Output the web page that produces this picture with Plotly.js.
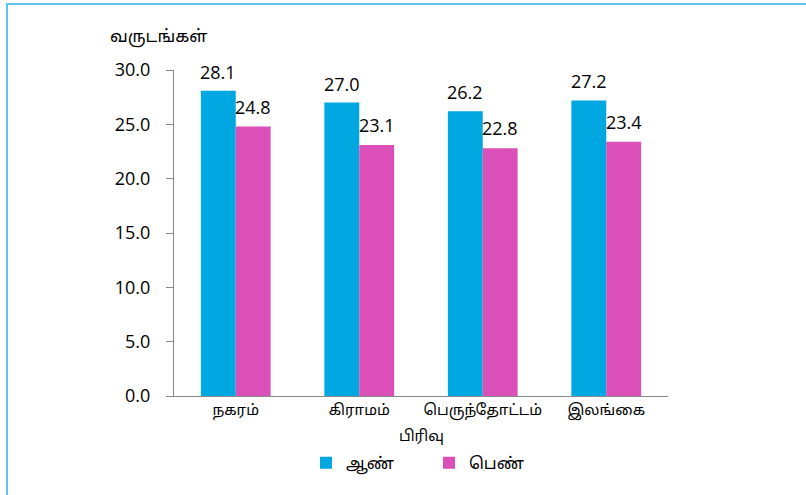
<!DOCTYPE html>
<html>
<head>
<meta charset="utf-8">
<script src="https://cdn.plot.ly/plotly-3.0.1.min.js"></script>
<style>
html,body{margin:0;padding:0;background:#fff;overflow:hidden;}
#frame{position:absolute;left:6px;top:3px;width:900px;height:600px;border:2px solid #5CC5EE;box-sizing:border-box;pointer-events:none;z-index:5;}
#chart{position:absolute;left:0;top:0;width:806px;height:495px;}
</style>
</head>
<body>
<div id="chart"></div>
<div id="frame"></div>
<script>
const categories = ["நகரம்", "கிராமம்", "பெருந்தோட்டம்", "இலங்கை"];
const maleValues = [28.1, 27.0, 26.2, 27.2];
const femaleValues = [24.8, 23.1, 22.8, 23.4];
const seriesNames = ["ஆண்", "பெண்"];
const yTicks = [0, 5, 10, 15, 20, 25, 30];
const yTickLabels = ["0.0", "5.0", "10.0", "15.0", "20.0", "25.0", "30.0"];

const tamilFont = "'Noto Sans Tamil', 'Lohit Tamil', 'Noto Sans', sans-serif";
const numFont = "'Open Sans', 'Noto Sans', sans-serif";
const blue = "#00A7E1";
const pink = "#DB4FB8";

const W = 806, H = 495;
const M = {l: 174, r: 138, t: 70, b: 99};
const plotW = W - M.l - M.r, plotH = H - M.t - M.b;
const px2x = p => (p - M.l) / plotW;
const py2y = p => (H - M.b - p) / plotH;

const traces = [
  {type: "bar", name: seriesNames[0], x: categories, y: maleValues, marker: {color: blue}, hoverinfo: "skip"},
  {type: "bar", name: seriesNames[1], x: categories, y: femaleValues, marker: {color: pink}, hoverinfo: "skip"}
];

const annotations = [];
categories.forEach((c, i) => {
  annotations.push({x: c, y: maleValues[i], xref: "x", yref: "y", text: maleValues[i].toFixed(1),
    showarrow: false, xshift: -17.5, yshift: 19, font: {family: numFont, size: 18, color: "#000"}});
  annotations.push({x: c, y: femaleValues[i], xref: "x", yref: "y", text: femaleValues[i].toFixed(1),
    showarrow: false, xshift: 17.5, yshift: 20, font: {family: numFont, size: 18, color: "#000"}});
});
annotations.push({x: px2x(108), y: py2y(38), xref: "paper", yref: "paper", text: "வருடங்கள்", showarrow: false,
  xanchor: "left", yanchor: "middle", font: {family: tamilFont, size: 17, color: "#000"}});
annotations.push({x: px2x(421), y: py2y(437), xref: "paper", yref: "paper", text: "பிரிவு", showarrow: false,
  xanchor: "center", yanchor: "middle", font: {family: tamilFont, size: 15, color: "#000"}});

const layout = {
  width: W, height: H,
  margin: M,
  paper_bgcolor: "#fff", plot_bgcolor: "#fff",
  barmode: "group", bargap: 0.435, bargroupgap: 0,
  showlegend: true,
  legend: {orientation: "h", xref: "container", yref: "container", x: 306 / W, xanchor: "left",
    y: 1 - 463 / H, yanchor: "middle", entrywidth: 78, entrywidthmode: "pixels",
    font: {family: tamilFont, size: 16.5, color: "#000"}, itemwidth: 30, traceorder: "normal"},
  xaxis: {
    type: "category", automargin: false, showgrid: false, zeroline: false, showline: true, linecolor: "#888", linewidth: 1,
    ticks: "", tickfont: {family: tamilFont, size: 15, color: "#000"}
  },
  yaxis: {
    automargin: false, range: [0, 30], tickvals: yTicks, ticktext: yTickLabels, showgrid: false, zeroline: false,
    showline: true, linecolor: "#888", linewidth: 1, ticks: "outside", ticklen: 7, tickcolor: "#888",
    tickfont: {family: numFont, size: 18, color: "#000"}, ticklabelstandoff: 12
  },
  annotations: annotations
};

Plotly.newPlot("chart", traces, layout, {staticPlot: true, displayModeBar: false});
</script>
</body>
</html>
